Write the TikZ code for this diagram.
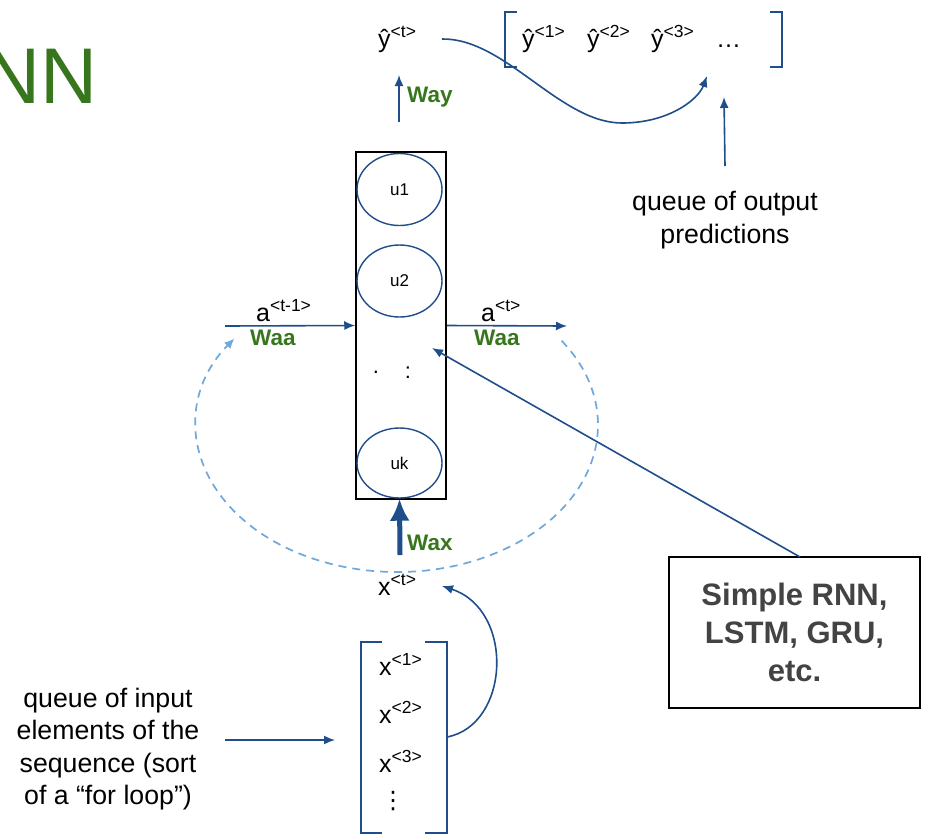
\documentclass[tikz,border=0pt]{standalone}
\usepackage{fontspec}
\setmainfont{Liberation Sans}
\newfontfamily\symfont{DejaVu Sans}
\usetikzlibrary{arrows.meta,shapes.geometric,calc}
\definecolor{cblue}{HTML}{1F4E8A}
\definecolor{lblue}{HTML}{6FA8DC}
\definecolor{cgreen}{HTML}{38761D}
\definecolor{cgray}{HTML}{434343}
\tikzset{
  lbl/.style={inner sep=0pt, anchor=base west, font=\fontsize{25}{30}\selectfont},
  wlbl/.style={inner sep=0pt, anchor=base west, text=cgreen, font=\bfseries\fontsize{22.5}{26}\selectfont},
  body/.style={inner sep=0pt, align=center, font=\fontsize{26.7}{32.5}\selectfont},
  conn/.style={draw=cblue, line width=1.6pt, -{Latex[length=11pt,width=9pt]}},
  unit/.style={ellipse, draw=cblue, line width=1.4pt, minimum width=85pt, minimum height=72pt, inner sep=0pt, font=\fontsize{17}{20}\selectfont},
  brk/.style={draw=cblue, line width=1.8pt},
  dots/.style={inner sep=0pt, font=\fontsize{22}{26}\selectfont},
}
\begin{document}
\begin{tikzpicture}[x=1pt,y=-1pt]
\useasboundingbox (0,0) rectangle (942,839);
\fill[white] (0,0) rectangle (942,839);

% title (partly cut off at the left edge)
\node[anchor=base east, inner sep=0pt, text=cgreen, font=\fontsize{79}{79}\selectfont] (title) at (98,103) {RNN};

% cell box with units
\node[draw=black, line width=1.5pt, minimum width=90pt, minimum height=347pt, inner sep=0pt] (cell) at (401,325.5) {};
\node[unit] (u1) at (399.5,189.5) {u1};
\node[unit] (u2) at (399.5,281) {u2};
\node[unit, minimum height=70pt] (uk) at (399.5,463) {uk};
\node[dots] (d1) at (376,372) {.};
\node[dots] (d2) at (408,373) {:};

% a<t-1> input
\coordinate (ain) at (225,326);
\draw[conn] (ain) -- (cell.west);
\node[lbl] (alab1) at (256,321) {a\textsuperscript{<t-1>}};
\node[wlbl] (waa1) at (250,345) {Waa};

% a<t> output
\coordinate (aout) at (567,326);
\draw[conn] (cell.east) -- (aout);
\node[lbl] (alab2) at (481,321) {a\textsuperscript{<t>}};
\node[wlbl] (waa2) at (474,345) {Waa};

% dashed recurrence loop
\coordinate (lc) at (397,425);
\coordinate (lstart) at ($(lc)+(164.6,-84.3)$);
\draw[lblue, line width=1.7pt, dash pattern=on 8pt off 6pt, -{Latex[length=10pt,width=9pt]}]
  (lstart) arc[start angle=-35, end angle=216, x radius=201, y radius=147];

% x<t> and Wax
\node[lbl] (xt) at (378,595) {x\textsuperscript{<t>}};
\coordinate (wxs) at (400,555);
\draw[draw=cblue, line width=5pt, -{Latex[length=22pt,width=20pt]}] (wxs) -- (uk.south);
\node[wlbl] (wax) at (407,550) {Wax};

% input queue
\draw[brk] (382,642) -- (361,642) -- (361,833) -- (382,833);
\draw[brk] (425,642) -- (447,642) -- (447,833) -- (425,833);
\node[lbl] (x1) at (379,675) {x\textsuperscript{<1>}};
\node[lbl] (x2) at (379,723) {x\textsuperscript{<2>}};
\node[lbl] (x3) at (379,772) {x\textsuperscript{<3>}};
\node[inner sep=0pt, font=\symfont\fontsize{24}{24}\selectfont] (xd) at (393,801) {⋮};
\coordinate (qout) at (447,737);
\coordinate (xtin) at (442,586);
\draw[conn] (qout) .. controls (510,725) and (515,610) .. (xtin);

\node[body] (inlab) at (108,749) {queue of input\\elements of the\\sequence (sort\\of a “for loop”)};
\coordinate (inA) at (225,740);
\coordinate (inB) at (335,740);
\draw[conn] (inA) -- (inB);

% output y-hat
\node[lbl] (yt) at (378,47) {ŷ\textsuperscript{<t>}};
\coordinate (wyS) at (399,122);
\coordinate (wyE) at (399,75);
\draw[conn] (wyS) -- (wyE);
\node[wlbl] (way) at (407,102) {Way};

% output queue
\draw[brk] (517,12) -- (505,12) -- (505,67) -- (517,67);
\draw[brk] (770,12) -- (782,12) -- (782,67) -- (770,67);
\node[lbl] (y1) at (522,47) {ŷ\textsuperscript{<1>}};
\node[lbl] (y2) at (587,47) {ŷ\textsuperscript{<2>}};
\node[lbl] (y3) at (651,47) {ŷ\textsuperscript{<3>}};
\node[lbl] (yd) at (716,47) {…};

\coordinate (ys) at (442,39);
\coordinate (ymid) at (622,123);
\coordinate (ye) at (707,76);
\draw[conn] (ys) .. controls (505,38) and (560,123) .. (ymid) .. controls (668,123) and (698,100) .. (ye);

\coordinate (oqS) at (725,166);
\coordinate (oqE) at (724,97);
\draw[conn] (oqS) -- (oqE);
\node[body] (outlab) at (725,220) {queue of output\\predictions};

% Simple RNN box
\node[draw=black, line width=1.5pt, minimum width=251pt, minimum height=151pt, inner sep=0pt,
      align=center, text=cgray, font=\bfseries\fontsize{31}{38}\selectfont] (rnn) at (794.5,632.5) {Simple RNN,\\LSTM, GRU,\\etc.};
\coordinate (rnnT) at (800,557);
\coordinate (rnnTip) at (432,348);
\draw[conn] (rnnT) -- (rnnTip);
\end{tikzpicture}
\end{document}
